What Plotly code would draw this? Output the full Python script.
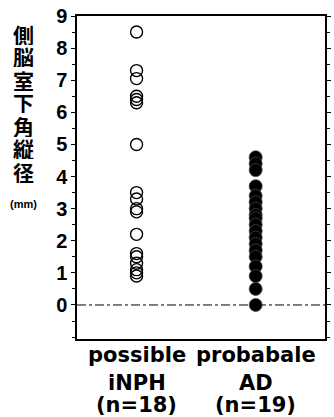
import plotly.graph_objects as go

cat_line1 = ["possible", "probabale"]
cat_line2 = ["iNPH", "AD"]
cat_line3 = ["(n=18)", "(n=19)"]
inph_values = [8.5, 7.3, 7.05, 6.5, 6.4, 6.3, 5.0, 3.5, 3.3, 3.0, 2.9, 2.2, 1.6, 1.5, 1.3, 1.1, 1.0, 0.9]
ad_values = [4.6, 4.4, 4.2, 3.7, 3.4, 3.2, 3.0, 2.8, 2.7, 2.5, 2.3, 2.1, 1.9, 1.7, 1.5, 1.2, 0.9, 0.5, 0.0]
y_ticks = [0, 1, 2, 3, 4, 5, 6, 7, 8, 9]
y_title_chars = ["側", "脳", "室", "下", "角", "縦", "径"]

W, H = 334, 417
ML, MR, MT, MB = 77, 3, 16, 78
PH = H - MT - MB


def py2paper(py):
    return (H - MB - py) / PH


fig = go.Figure()
fig.add_trace(go.Scatter(
    x=[0] * len(inph_values), y=inph_values, mode="markers",
    marker=dict(symbol="circle-open", size=12, color="black", line=dict(width=1.4, color="black")),
    showlegend=False, cliponaxis=False, hoverinfo="skip"))
fig.add_trace(go.Scatter(
    x=[1] * len(ad_values), y=ad_values, mode="markers",
    marker=dict(symbol="circle", size=13, color="black", line=dict(width=0.8, color="#444")),
    showlegend=False, cliponaxis=False, hoverinfo="skip"))

fig.add_shape(type="line", xref="paper", yref="y", x0=0, x1=1, y0=0, y1=0,
              line=dict(color="black", width=1, dash="dashdot"), layer="below")

fig.update_layout(
    width=W, height=H,
    margin=dict(l=ML, r=MR, t=MT, b=MB),
    paper_bgcolor="white", plot_bgcolor="white",
    font=dict(family="Liberation Sans, Arial, sans-serif", color="black"),
    xaxis=dict(range=[-0.5, 1.582], showticklabels=False,
               showgrid=False, zeroline=False, showline=True, linecolor="black", linewidth=1.5,
               mirror=True, ticks=""),
    yaxis=dict(range=[-1.06, 9], tickvals=y_ticks, showgrid=False, zeroline=False,
               showline=True, linecolor="black", linewidth=1.5, mirror="ticks",
               ticks="outside", ticklen=4, tickwidth=1, tickcolor="black",
               minor=dict(dtick=0.5, ticks="outside", ticklen=3, tickcolor="black"),
               ticklabelstandoff=0,
               tickfont=dict(size=20, family="Liberation Sans", weight="bold", color="black")),
)

# x category labels (three lines each)
for lines, cy in ((cat_line1, 355), (cat_line2, 383), (cat_line3, 405)):
    for i, t in enumerate(lines):
        fig.add_annotation(text=t, xref="x", yref="paper", x=i, y=py2paper(cy),
                           xanchor="center", yanchor="middle", showarrow=False,
                           font=dict(size=21, family="DejaVu Sans", weight="bold", color="black"))

# vertical Japanese y-axis title
for i, ch in enumerate(y_title_chars):
    fig.add_annotation(text=ch, xref="paper", yref="paper",
                       x=(22 - ML) / (W - ML - MR), y=py2paper(33 + 23 * i),
                       xanchor="center", yanchor="middle", showarrow=False, height=23,
                       font=dict(size=21, family="Noto Sans CJK JP", weight="bold", color="black"))
fig.add_annotation(text="(mm)", xref="paper", yref="paper",
                   x=(22 - ML) / (W - ML - MR), y=py2paper(204),
                   xanchor="center", yanchor="middle", showarrow=False,
                   font=dict(size=11, family="Liberation Sans", weight="bold", color="black"))

fig.write_html("out.html", config={"displayModeBar": False},
               post_script="document.body.style.margin='0';document.body.style.overflow='hidden';")
